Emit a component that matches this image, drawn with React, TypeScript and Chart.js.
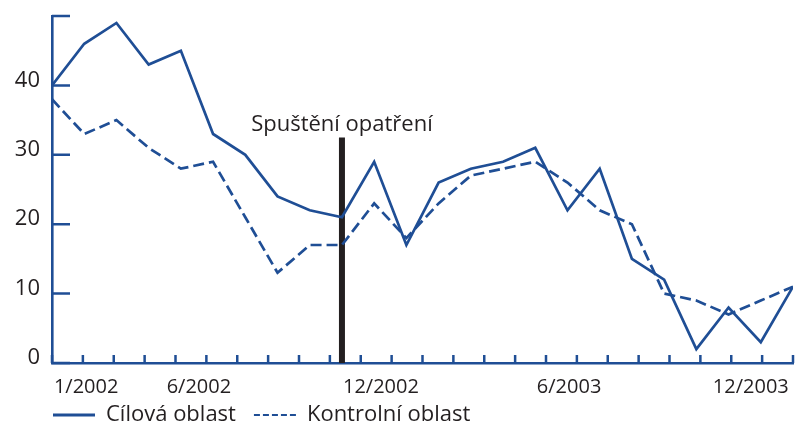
import React, { useEffect, useRef } from "react";
import { Chart, registerables } from "chart.js";

Chart.register(...registerables);

const months = [
  "1/2002", "2/2002", "3/2002", "4/2002", "5/2002", "6/2002",
  "7/2002", "8/2002", "9/2002", "10/2002", "11/2002", "12/2002",
  "1/2003", "2/2003", "3/2003", "4/2003", "5/2003", "6/2003",
  "7/2003", "8/2003", "9/2003", "10/2003", "11/2003", "12/2003",
];
const targetArea = [40, 46, 49, 43, 45, 33, 30, 24, 22, 21, 29, 17, 26, 28, 29, 31, 22, 28, 15, 12, 2, 8, 3, 11];
const controlArea = [38, 33, 35, 31, 28, 29, 21, 13, 17, 17, 23, 18, 23, 27, 28, 29, 26, 22, 20, 10, 9, 7, 9, 11];
const xTickLabels = ["1/2002", "6/2002", "12/2002", "6/2003", "12/2003"];
const xTickValues = [1.06, 4.56, 10.21, 16.05, 21.69];
const yMax = 50;
const yStep = 10;
const xMarkCount = 24;
const interventionIndex = 9;
const interventionTop = 32.5;
const interventionLabel = "Spuštění opatření";
const seriesNames = ["Cílová oblast", "Kontrolní oblast"];

const BLUE = "#1f4e95";
const DARK = "#231f20";
const FONT = "'Open Sans', sans-serif";

const marksPlugin = {
  id: "marks",
  afterLayout(chart: any) {
    if (chart.legend) {
      chart.legend.left = 35;
      chart.legend.top = 386;
    }
  },
  beforeDatasetsDraw(chart: any) {
    const { ctx, scales } = chart;
    const x = scales.x;
    const y = scales.y;
    const xm = scales.xm;
    ctx.save();
    const bx = x.getPixelForValue(interventionIndex);
    ctx.strokeStyle = DARK;
    ctx.lineWidth = 6;
    ctx.beginPath();
    ctx.moveTo(bx, y.getPixelForValue(0));
    ctx.lineTo(bx, y.getPixelForValue(interventionTop));
    ctx.stroke();
    ctx.fillStyle = DARK;
    ctx.font = `22px ${FONT}`;
    ctx.textAlign = "center";
    ctx.textBaseline = "alphabetic";
    ctx.fillText(interventionLabel, bx, y.getPixelForValue(interventionTop) - 6);
    ctx.strokeStyle = BLUE;
    ctx.lineWidth = 2.5;
    const y0 = y.getPixelForValue(0);
    ctx.beginPath();
    for (let k = 0; k <= xMarkCount; k++) {
      const px = xm.getPixelForValue(k);
      ctx.moveTo(px, y0);
      ctx.lineTo(px, y0 - 8);
    }
    const x0 = x.getPixelForValue(0);
    for (let v = 0; v <= yMax; v += yStep) {
      const py = y.getPixelForValue(v);
      ctx.moveTo(x0, py);
      ctx.lineTo(x0 + 18, py);
    }
    ctx.stroke();
    ctx.restore();
  },
};

export default function App() {
  const ref = useRef<HTMLCanvasElement | null>(null);
  useEffect(() => {
    if (!ref.current) return;
    const chart = new Chart(ref.current, {
      type: "line",
      data: {
        datasets: [
          {
            label: seriesNames[0],
            data: targetArea.map((v, i) => ({ x: i, y: v })),
            borderColor: BLUE,
            backgroundColor: BLUE,
            borderWidth: 2.7,
            pointRadius: 0,
            tension: 0,
          },
          {
            label: seriesNames[1],
            data: controlArea.map((v, i) => ({ x: i, y: v })),
            borderColor: BLUE,
            backgroundColor: BLUE,
            borderWidth: 2.7,
            borderDash: [11, 5],
            pointRadius: 0,
            tension: 0,
          },
        ],
      },
      options: {
        animation: false,
        responsive: true,
        maintainAspectRatio: false,
        layout: { padding: { left: 0, right: 2, top: 16, bottom: -22 } },
        plugins: {
          tooltip: { enabled: false },
          legend: {
            position: "bottom",
            align: "start",
            labels: {
              usePointStyle: true,
              pointStyle: "line",
              pointStyleWidth: 42,
              padding: 18,
              color: DARK,
              font: { family: FONT, size: 22, lineHeight: 1 },
              generateLabels: (c: any) => {
                const items = Chart.defaults.plugins.legend.labels.generateLabels(c);
                items.forEach((it: any, i: number) => {
                  it.pointStyle = "line";
                  it.lineWidth = i === 0 ? 3.2 : 2.2;
                  it.lineDash = i === 0 ? [] : [6, 3];
                });
                return items;
              },
            },
          },
        },
        scales: {
          x: {
            type: "linear",
            min: 0,
            max: months.length - 1,
            afterBuildTicks: (s: any) => {
              s.ticks = xTickValues.map((v) => ({ value: v }));
            },
            ticks: {
              autoSkip: false,
              maxRotation: 0,
              padding: 12,
              color: DARK,
              font: { family: FONT, size: 20 },
              callback: (_v: any, i: number) => xTickLabels[i],
            },
            grid: { display: false, drawTicks: false },
            border: { display: true, color: BLUE, width: 2.6 },
            afterFit: (s: any) => {
              s.height = 33;
              s.paddingLeft = 0;
              s.paddingRight = 0;
            },
          },
          xm: {
            type: "linear",
            display: false,
            min: 0,
            max: xMarkCount,
          },
          y: {
            min: 0,
            max: yMax,
            ticks: {
              stepSize: yStep,
              padding: 12,
              labelOffset: -5,
              color: DARK,
              font: { family: FONT, size: 22 },
              callback: (v: any) => (v === yMax ? "" : String(v)),
            },
            grid: { display: false, drawTicks: false },
            border: { display: true, color: BLUE, width: 2.6 },
            afterFit: (s: any) => {
              s.width = 52;
              s.paddingTop = 0;
              s.paddingBottom = 0;
            },
          },
        },
      },
      plugins: [marksPlugin],
    });
    return () => chart.destroy();
  }, []);
  return (
    <div style={{ position: "absolute", left: 0, top: 0, width: 795, height: 424 }}>
      <canvas ref={ref} />
    </div>
  );
}
